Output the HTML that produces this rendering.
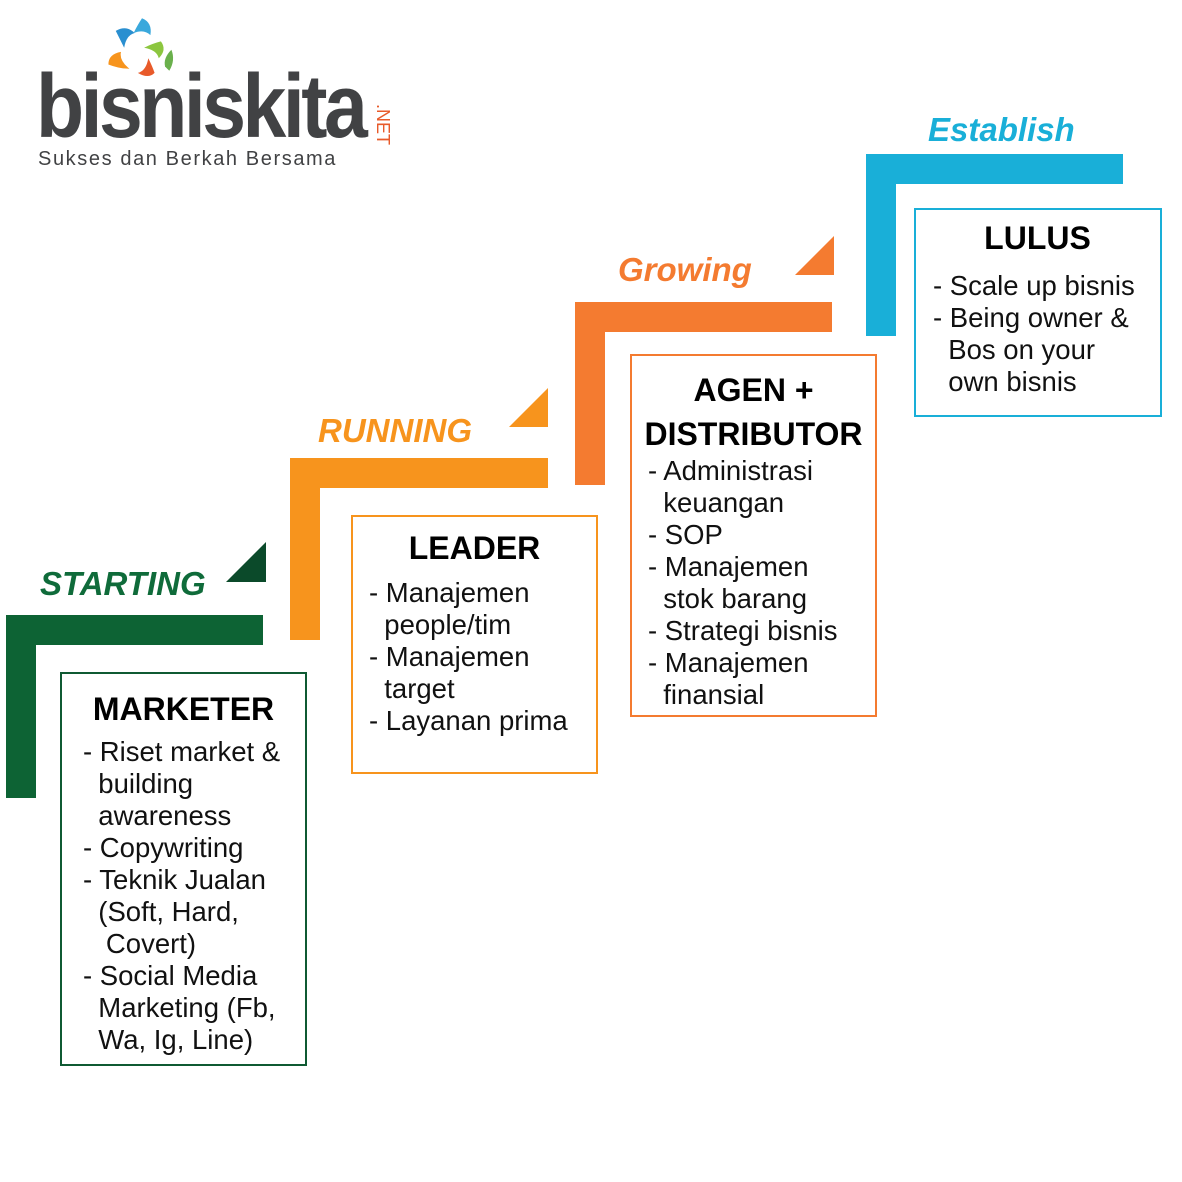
<!DOCTYPE html>
<html><head><meta charset="utf-8"><style>
body{margin:0;width:1182px;height:1182px;background:#fff;position:relative;overflow:hidden;font-family:"Liberation Sans",sans-serif}
.a{position:absolute}
.t{position:absolute;font-size:27.5px;line-height:32px;color:#111;white-space:pre}
.h{position:absolute;font-size:32px;font-weight:bold;color:#000;line-height:44px;text-align:center;white-space:pre}
.lab{position:absolute;font-size:33px;font-weight:bold;font-style:italic;line-height:40px;white-space:pre}
</style></head><body>
<!-- logo -->
<svg class="a" style="left:100px;top:12px" width="84" height="84" viewBox="0 0 80 80">
<path d="M15 18 q10 -6 18 2 q-8 2 -10 14 q-4 -8 -8 -16z" fill="#2a8fd0"/>
<path d="M40 6 q10 4 8 16 q-6 -6 -16 -2 q4 -8 8 -14z" fill="#3aa8dc"/>
<path d="M58 28 q6 8 -2 16 q-2 -8 -14 -10 q8 -4 16 -6z" fill="#8cc63f"/>
<path d="M52 58 q-6 6 -16 0 q8 -2 10 -14 q4 8 6 14z" fill="#e85a2a"/>
<path d="M8 50 q0 -10 12 -12 q-2 8 8 16 q-10 0 -20 -4z" fill="#f7941d"/>
<path d="M62 52 q-2 -8 6 -16 q4 10 -2 20z" fill="#6ab04c"/>
</svg>
<div class="a" style="left:36px;top:62px;font-size:90px;font-weight:bold;color:#414244;letter-spacing:-4px;line-height:90px;transform:scaleX(0.875);transform-origin:left top">bisniskita</div>
<div class="a" style="left:392px;top:104px;font-size:18px;color:#e85a2a;transform:rotate(90deg);transform-origin:left top;line-height:18px">.NET</div>
<div class="a" style="left:38px;top:147px;font-size:20px;color:#414244;letter-spacing:1.6px;line-height:24px">Sukses dan Berkah Bersama</div>

<!-- green -->
<div class="a" style="left:6px;top:615px;width:257px;height:30px;background:#0d6334"></div>
<div class="a" style="left:6px;top:615px;width:30px;height:183px;background:#0d6334"></div>
<svg class="a" style="left:0;top:0" width="1182" height="1182">
<polygon points="226,582 266,542 266,582" fill="#0b4a2a"/>
<polygon points="509,427 548,388 548,427" fill="#f7941d"/>
<polygon points="795,275 834,236 834,275" fill="#f47b30"/>
</svg>
<div class="lab" style="left:40px;top:564px;color:#0f6b3a">STARTING</div>
<div class="a" style="left:60px;top:672px;width:243px;height:390px;border:2px solid #0f5a33"></div>
<div class="h" style="left:60px;top:687px;width:247px">MARKETER</div>
<div class="t" style="left:83px;top:736px">- Riset market &amp;
  building
  awareness
- Copywriting
- Teknik Jualan
  (Soft, Hard,
   Covert)
- Social Media
  Marketing (Fb,
  Wa, Ig, Line)</div>

<!-- running -->
<div class="a" style="left:290px;top:458px;width:258px;height:30px;background:#f7941d"></div>
<div class="a" style="left:290px;top:458px;width:30px;height:182px;background:#f7941d"></div>
<div class="lab" style="left:318px;top:411px;color:#f7941d">RUNNING</div>
<div class="a" style="left:351px;top:515px;width:243px;height:255px;border:2px solid #f7941d"></div>
<div class="h" style="left:351px;top:526px;width:247px">LEADER</div>
<div class="t" style="left:369px;top:577px">- Manajemen
  people/tim
- Manajemen
  target
- Layanan prima</div>

<!-- growing -->
<div class="a" style="left:575px;top:302px;width:257px;height:30px;background:#f47b30"></div>
<div class="a" style="left:575px;top:302px;width:30px;height:183px;background:#f47b30"></div>
<div class="lab" style="left:618px;top:250px;color:#f47b30">Growing</div>
<div class="a" style="left:630px;top:354px;width:243px;height:359px;border:2px solid #f47b30"></div>
<div class="h" style="left:630px;top:368px;width:247px">AGEN +
DISTRIBUTOR</div>
<div class="t" style="left:648px;top:455px">- Administrasi
  keuangan
- SOP
- Manajemen
  stok barang
- Strategi bisnis
- Manajemen
  finansial</div>

<!-- establish -->
<div class="a" style="left:866px;top:154px;width:257px;height:30px;background:#19afd8"></div>
<div class="a" style="left:866px;top:154px;width:30px;height:182px;background:#19afd8"></div>
<div class="lab" style="left:928px;top:110px;color:#19afd8">Establish</div>
<div class="a" style="left:914px;top:208px;width:244px;height:205px;border:2px solid #19afd8"></div>
<div class="h" style="left:914px;top:216px;width:247px">LULUS</div>
<div class="t" style="left:933px;top:270px">- Scale up bisnis
- Being owner &amp;
  Bos on your
  own bisnis</div>
</body></html>
